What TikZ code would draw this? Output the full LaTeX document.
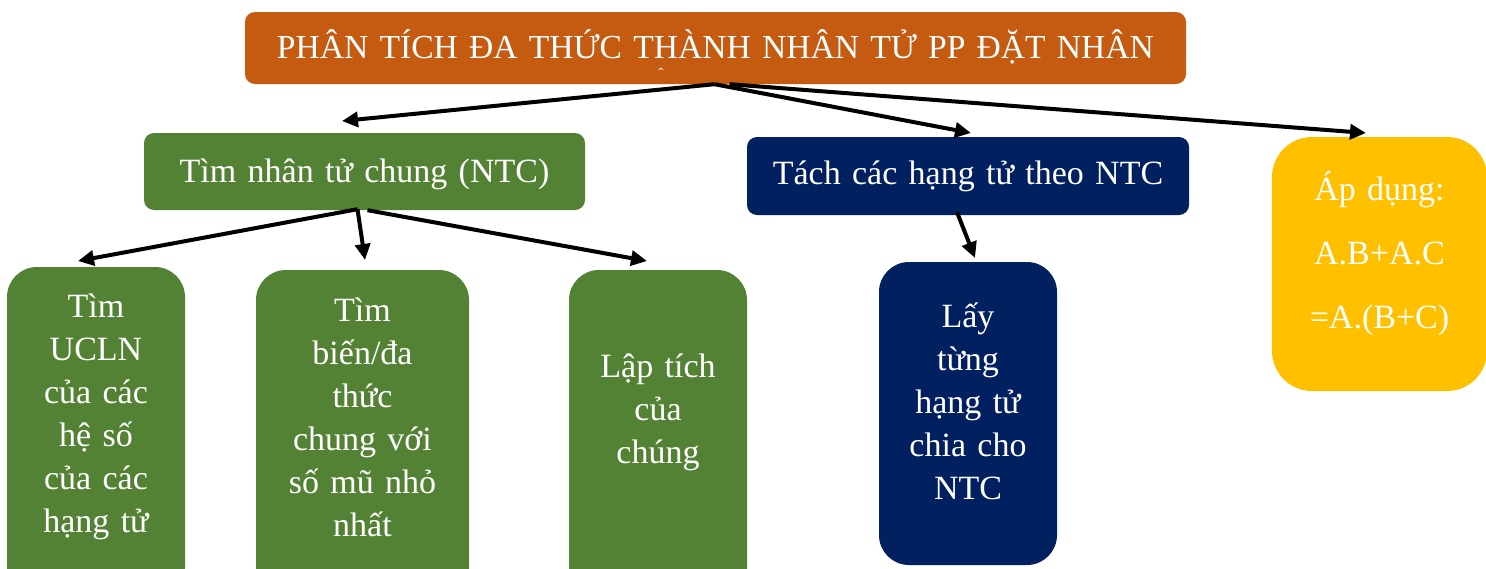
\documentclass[tikz,border=0pt]{standalone}
\usepackage{fontspec}
\setmainfont{Liberation Serif}
\usetikzlibrary{arrows.meta,calc}
\definecolor{corange}{HTML}{C55A11}
\definecolor{cgreen}{HTML}{548235}
\definecolor{cnavy}{HTML}{002060}
\definecolor{cyellow}{HTML}{FFC000}
\begin{document}
\begin{tikzpicture}[x=1pt,y=-1pt,
  box/.style={rounded corners=#1, draw=none, inner sep=0pt},
  box/.default=10pt,
  txt/.style={text=white, font=\fontsize{34}{43}\selectfont, anchor=base, align=center, inner sep=0pt, text width=240pt},
  conn/.style={line width=4pt, -{Triangle[length=16pt,width=15pt]}}]
\useasboundingbox (0,0) rectangle (1486,568);
\clip (0,0) rectangle (1486,568);
% boxes
\node[box=10pt, fill=corange, minimum width=941pt, minimum height=72pt] (title) at (715.5,48) {};
\node[box=10pt, fill=cgreen, minimum width=441pt, minimum height=77pt] (ntc) at (364.5,171.5) {};
\node[box=10pt, fill=cnavy, minimum width=442pt, minimum height=78pt] (tach) at (968,176) {};
\node[box=40pt, fill=cyellow, minimum width=215pt, minimum height=254pt] (apd) at (1379.5,264) {};
\node[box=30pt, fill=cgreen, minimum width=178pt, minimum height=330pt] (g1) at (96,432) {};
\node[box=30pt, fill=cgreen, minimum width=213pt, minimum height=330pt] (g2) at (362.5,435) {};
\node[box=30pt, fill=cgreen, minimum width=178pt, minimum height=330pt] (g3) at (658,435) {};
\node[box=30pt, fill=cnavy, minimum width=178pt, minimum height=303pt] (n2) at (968,413.5) {};
% texts
\node[txt, text width=941pt, font=\fontsize{33.6}{40}\selectfont] (ttitle) at (715.5,58) {PHÂN TÍCH ĐA THỨC THÀNH NHÂN TỬ PP ĐẶT NHÂN};
\node[text=white, inner sep=0pt, font=\fontsize{16}{16}\selectfont] (hat) at (661,74) {ˆ};
\node[txt, text width=441pt] (tntc) at (364.5,182) {Tìm nhân tử chung (NTC)};
\node[txt, text width=442pt] (ttach) at (968,184) {Tách các hạng tử theo NTC};
\node[txt, text width=215pt, font=\fontsize{34}{64}\selectfont] (tapd) at (1379.5,200) {Áp dụng:\\A.B+A.C\\=A.(B+C)};
\node[txt, text width=178pt] (tg1) at (96,317) {Tìm\\UCLN\\của các\\hệ số\\của các\\hạng tử};
\node[txt, text width=213pt] (tg2) at (362.5,321) {Tìm\\biến/đa\\thức\\chung với\\số mũ nhỏ\\nhất};
\node[txt, text width=178pt] (tg3) at (658,377) {Lập tích\\của\\chúng};
\node[txt, text width=178pt] (tn2) at (968,327) {Lấy\\từng\\hạng tử\\chia cho\\NTC};
% arrow tips
\coordinate (e1) at (342,121);
\coordinate (e2) at (971,133);
\coordinate (e3) at (1366,133);
\coordinate (e4) at (78,261);
\coordinate (e5) at (365,260);
\coordinate (e6) at (647,261);
\coordinate (e7) at (975,258);
% connectors
\draw[conn] ($(title.south)+(-1,0)$) -- (e1);
\draw[conn] ($(title.south)+(-1,0)$) -- (e2);
\draw[conn] ($(title.south)+(14,0)$) -- (e3);
\draw[conn] ($(ntc.south)+(-7,-1)$) -- (e4);
\draw[conn] ($(ntc.south)+(-7,-1)$) -- (e5);
\draw[conn] ($(ntc.south)+(3,0)$) -- (e6);
\draw[conn] ($(tach.south)+(-11,-3)$) -- (e7);
\end{tikzpicture}
\end{document}
